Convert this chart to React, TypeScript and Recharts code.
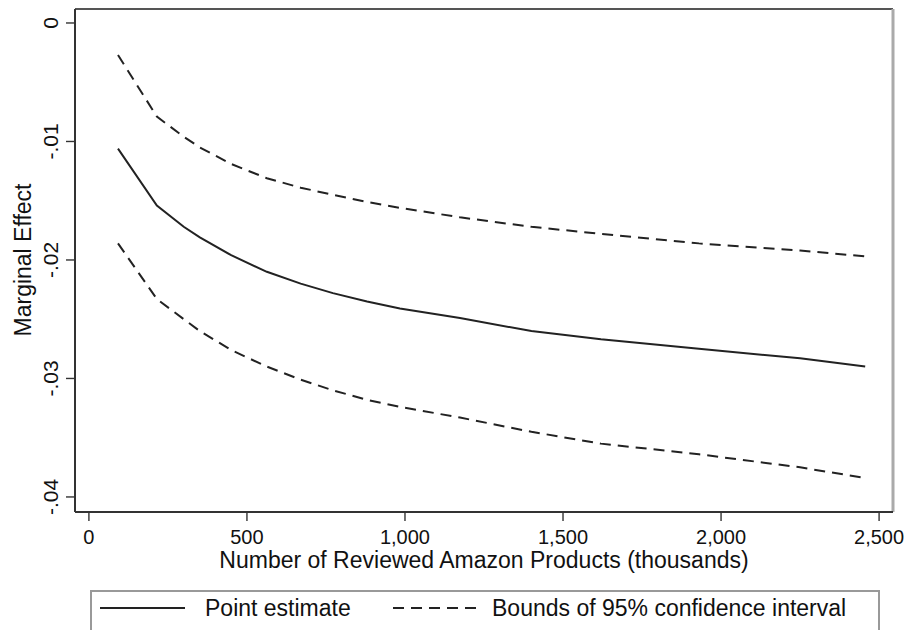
import React from "react";
import {
  LineChart,
  Line,
  XAxis,
  YAxis,
  ReferenceLine,
} from "recharts";

// thousands of reviewed products
const products = [92, 215, 300, 351, 450, 563, 670, 772, 880, 984, 1174, 1400, 1620, 1930, 2250, 2456];
const pointEstimate = [-0.0106, -0.0154, -0.0172, -0.0181, -0.0196, -0.021, -0.022, -0.0228, -0.0235, -0.0241, -0.0249, -0.026, -0.0267, -0.0275, -0.0283, -0.029];
const upperBound = [-0.0027, -0.0079, -0.0096, -0.0105, -0.0119, -0.0131, -0.0139, -0.0145, -0.0151, -0.0156, -0.0164, -0.0172, -0.0178, -0.0186, -0.0192, -0.0197];
const lowerBound = [-0.0186, -0.0233, -0.025, -0.026, -0.0276, -0.029, -0.0301, -0.031, -0.0318, -0.0324, -0.0333, -0.0345, -0.0355, -0.0364, -0.0375, -0.0384];

const xTicks = [0, 500, 1000, 1500, 2000, 2500];
const yTicks = [-0.04, -0.03, -0.02, -0.01, 0];

const data = products.map((p, i) => ({
  x: p,
  est: pointEstimate[i],
  hi: upperBound[i],
  lo: lowerBound[i],
}));

const FONT = "Arial, 'Liberation Sans', sans-serif";
const X_DOMAIN = [-44, 2544];
const Y_DOMAIN = [-0.04127, 0.00118];
const DASH = "11 7";

const fmtY = (v: number) => {
  if (Math.abs(v) < 1e-9) return "0";
  return "-" + Math.abs(v).toFixed(2).replace(/^0/, "");
};

const YTick = (props: any) => {
  const { y, payload } = props;
  return (
    <g>
      <line x1={66} x2={75} y1={y} y2={y} stroke="#333" strokeWidth={1.4} />
      <text
        x={58}
        y={y}
        transform={`rotate(-90, 58, ${y})`}
        textAnchor="middle"
        fontSize={21}
        fontFamily={FONT}
        fill="#111"
      >
        {fmtY(payload.value)}
      </text>
    </g>
  );
};

const XTick = (props: any) => {
  const { x, payload } = props;
  return (
    <g>
      <line x1={x} x2={x} y1={512} y2={521} stroke="#333" strokeWidth={1.4} />
      <text
        x={x}
        y={544}
        textAnchor="middle"
        fontSize={20}
        fontFamily={FONT}
        fill="#111"
      >
        {payload.value.toLocaleString("en-US")}
      </text>
    </g>
  );
};

export default function App() {
  return (
    <div
      style={{
        position: "absolute",
        left: 0,
        top: 0,
        width: 911,
        height: 630,
        background: "#fff",
        overflow: "hidden",
        fontFamily: FONT,
      }}
    >
      <LineChart
        width={911}
        height={630}
        data={data}
        margin={{ top: 9, right: 18, bottom: 0, left: 0 }}
      >
        <XAxis
          dataKey="x"
          type="number"
          domain={X_DOMAIN}
          ticks={xTicks}
          height={118}
          axisLine={{ stroke: "#333", strokeWidth: 2 }}
          tickLine={false}
          tick={<XTick />}
          allowDataOverflow
          label={{
            content: () => (
              <text x={484} y={568} textAnchor="middle" fontSize={23} fontFamily={FONT} fill="#111">
                Number of Reviewed Amazon Products (thousands)
              </text>
            ),
          }}
        />
        <YAxis
          type="number"
          domain={Y_DOMAIN}
          ticks={yTicks}
          width={75}
          axisLine={{ stroke: "#333", strokeWidth: 2 }}
          tickLine={false}
          tick={<YTick />}
          allowDataOverflow
          label={{
            content: () => (
              <text
                x={31}
                y={260}
                transform="rotate(-90, 31, 260)"
                textAnchor="middle"
                fontSize={23}
                fontFamily={FONT}
                fill="#111"
              >
                Marginal Effect
              </text>
            ),
          }}
        />
        <ReferenceLine y={Y_DOMAIN[1]} stroke="#555" strokeWidth={2} />
        <ReferenceLine x={X_DOMAIN[1]} stroke="#aaa" strokeWidth={3} />
        <Line
          dataKey="hi"
          stroke="#222"
          strokeWidth={2}
          strokeDasharray={DASH}
          dot={false}
          type="linear"
          isAnimationActive={false}
        />
        <Line
          dataKey="est"
          stroke="#222"
          strokeWidth={2}
          dot={false}
          type="linear"
          isAnimationActive={false}
        />
        <Line
          dataKey="lo"
          stroke="#222"
          strokeWidth={2}
          strokeDasharray={DASH}
          dot={false}
          type="linear"
          isAnimationActive={false}
        />
      </LineChart>
      <div
        style={{
          position: "absolute",
          left: 90,
          top: 590,
          width: 790,
          height: 60,
          border: "2px solid #999",
          boxSizing: "border-box",
        }}
      >
        <svg width={790} height={40} style={{ position: "absolute", left: 0, top: 0 }}>
          <line x1={8} x2={93} y1={16} y2={16} stroke="#222" strokeWidth={2} />
          <line x1={301} x2={386} y1={16} y2={16} stroke="#222" strokeWidth={2} strokeDasharray={DASH} />
          <text x={113} y={24} fontSize={23} fontFamily={FONT} fill="#111">
            Point estimate
          </text>
          <text x={400} y={24} fontSize={23} fontFamily={FONT} fill="#111">
            Bounds of 95% confidence interval
          </text>
        </svg>
      </div>
    </div>
  );
}
